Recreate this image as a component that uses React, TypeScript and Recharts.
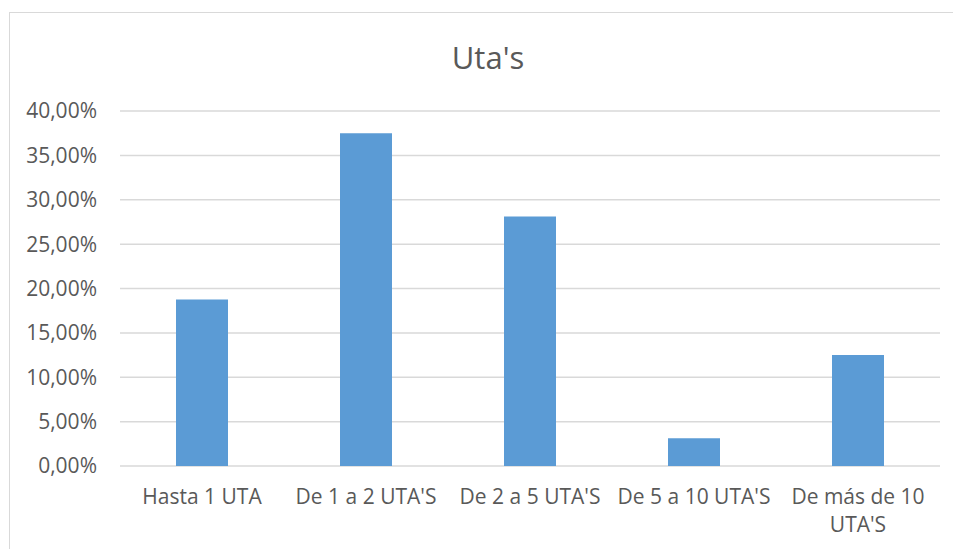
import { Bar, BarChart, CartesianGrid, XAxis, YAxis } from "recharts";

const categories = ["Hasta 1 UTA", "De 1 a 2 UTA'S", "De 2 a 5 UTA'S", "De 5 a 10 UTA'S", "De más de 10\nUTA'S"];
const shares = [0.1875, 0.375, 0.28125, 0.03125, 0.125];
const yTicks = [0, 0.05, 0.1, 0.15, 0.2, 0.25, 0.3, 0.35, 0.4];
const title = "Uta's";

const data = categories.map((name, i) => ({ name, value: shares[i] }));

const FONT = "'Open Sans', sans-serif";
const TEXT = "#595959";

const pct = (v: number) => (v * 100).toFixed(2).replace(".", ",") + "%";

function CategoryTick(props: any) {
    const { x, y, payload } = props;
    const lines = String(payload.value).split("\n");
    return (
        <text x={x} y={y} textAnchor="middle" fill={TEXT} fontFamily={FONT} fontSize={21}>
            {lines.map((line, i) => (
                <tspan key={i} x={x} dy={i === 0 ? 15 : 28}>{line}</tspan>
            ))}
        </text>
    );
}

export default function App() {
    return (
        <div style={{ position: "absolute", left: 0, top: 0, width: 953, height: 549, overflow: "hidden", background: "#fff" }}>
            <div style={{
                position: "absolute", left: 9, top: 12, width: 944, height: 537,
                borderLeft: "1.5px solid #d9d9d9", borderTop: "1.5px solid #d9d9d9",
            }} />
            <div style={{ position: "absolute", left: 0, top: 0 }}>
                <BarChart
                    width={953}
                    height={549}
                    data={data}
                    margin={{ top: 111, right: 13, bottom: 53, left: 0 }}
                >
                    <text x={488} y={69} textAnchor="middle" fill={TEXT} fontFamily={FONT} fontSize={31}>{title}</text>
                    <CartesianGrid vertical={false} stroke="#d9d9d9" strokeWidth={1.5} />
                    <XAxis
                        dataKey="name"
                        height={30}
                        axisLine={false}
                        tickLine={false}
                        tickSize={0}
                        tickMargin={23}
                        interval={0}
                        tick={<CategoryTick />}
                    />
                    <YAxis
                        width={120}
                        domain={[0, 0.4]}
                        ticks={yTicks}
                        tickFormatter={pct}
                        axisLine={false}
                        tickLine={false}
                        tickSize={0}
                        tickMargin={23}
                        tick={{ fill: TEXT, fontFamily: FONT, fontSize: 21 }}
                    />
                    <Bar dataKey="value" fill="#5b9bd5" barSize={52} isAnimationActive={false} />
                </BarChart>
            </div>
        </div>
    );
}
